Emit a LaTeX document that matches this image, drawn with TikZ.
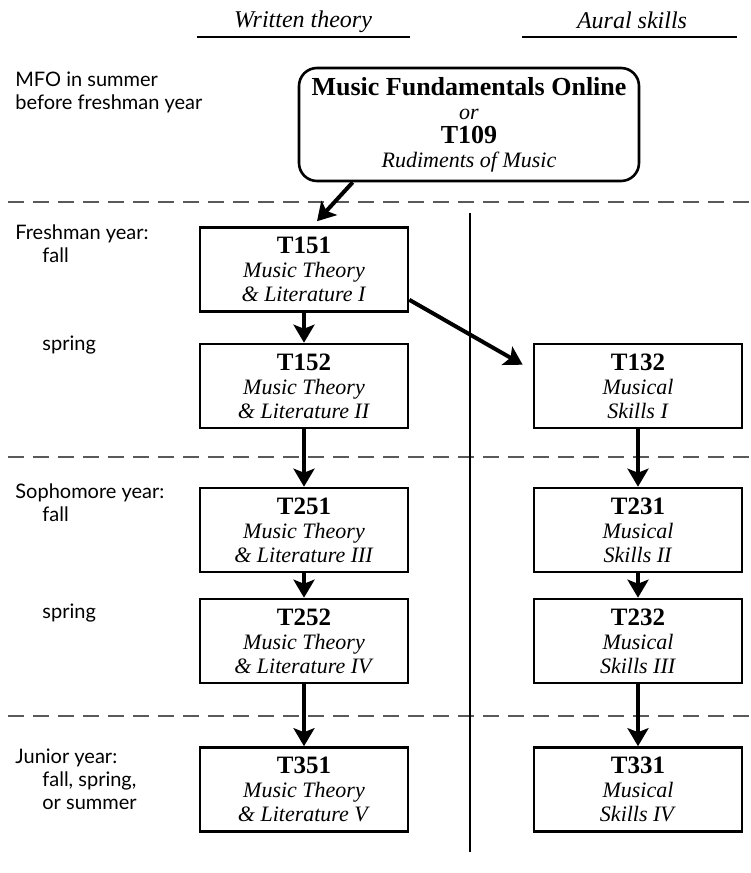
\documentclass[tikz,border=0pt]{standalone}
\usepackage{fontspec}
\setmainfont{Liberation Serif}
\newfontfamily\yearfont{Lato}
\usetikzlibrary{arrows.meta}

\newcommand{\crs}[3]{{\fontsize{12.5}{12}\selectfont\bfseries #1}\\\textit{#2}\\\textit{#3}}

\begin{document}
\begin{tikzpicture}[x=0.5pt,y=-0.5pt,>={Stealth[length=9pt,width=10.5pt,inset=2pt]}]
\tikzstyle{course}=[rectangle,draw,line width=1.3pt,minimum width=104pt,minimum height=42pt,inner sep=0pt,align=center,font=\fontsize{11}{12}\selectfont]
\tikzstyle{year}=[anchor=west,align=left,inner sep=0pt,font=\yearfont\fontsize{10}{11.5}\selectfont]
\tikzstyle{head}=[font=\fontsize{12}{14}\selectfont\itshape]
\tikzstyle{prereq}=[->,line width=2pt]
\tikzstyle{divider}=[dash pattern=on 8pt off 4.5pt,black!65,line width=0.8pt]
\useasboundingbox (0,0) rectangle (750,873);

% column heads
\node[head](wt) at (303,22) {Written theory};
\node[head](as) at (632,20) {Aural skills};
\draw[line width=1pt] (197,37) -- (410,37);
\draw[line width=1pt] (522,37) -- (737,37);

% years
\node[year](mfoyr) at (15,92) {MFO in summer\\before freshman year};
\node[year](fr) at (15,244) {Freshman year:\\\hspace*{13.5pt}fall};
\node[year](frsp) at (42,345) {spring};
\node[year](so) at (15,503) {Sophomore year:\\\hspace*{13.5pt}fall};
\node[year](sosp) at (42,613) {spring};
\node[year](jr) at (15,779) {Junior year:\\\hspace*{13.5pt}fall, spring,\\\hspace*{13.5pt}or summer};

\draw[divider] (8,202) -- (750,202);
\draw[divider] (8,457) -- (750,457);
\draw[divider] (8,716) -- (750,716);
\draw[line width=0.6pt] (470,213) -- (470,852);

\node[course,rounded corners=9pt,minimum width=170pt,minimum height=56.5pt](mfo) at (469,124.5)
  {{\fontsize{13}{12}\selectfont\bfseries Music Fundamentals Online}\\\textit{or}\\
   {\fontsize{13}{12}\selectfont\bfseries T109}\\\textit{Rudiments of Music}};
\node[course](t151) at (304,269.5) {\crs{T151}{Music Theory}{\& Literature I}};
\node[course](t152) at (304,386) {\crs{T152}{Music Theory}{\& Literature II}};
\node[course](t132) at (638,386) {\crs{T132}{Musical}{Skills I}};
\node[course](t251) at (304,530) {\crs{T251}{Music Theory}{\& Literature III}};
\node[course](t231) at (638,530) {\crs{T231}{Musical}{Skills II}};
\node[course](t252) at (304,641) {\crs{T252}{Music Theory}{\& Literature IV}};
\node[course](t232) at (638,641) {\crs{T232}{Musical}{Skills III}};
\node[course](t351) at (304,789.5) {\crs{T351}{Music Theory}{\& Literature V}};
\node[course](t331) at (638,789.5) {\crs{T331}{Musical}{Skills IV}};

\path ([xshift=27.5pt]mfo.south west) edge[prereq] ([xshift=6.5pt,yshift=2.5pt]t151.north)
      (t151) edge[prereq] (t152)
      ([yshift=6.5pt]t151.south east) edge[prereq] ([xshift=-5pt,yshift=-11pt]t132.north west)
      (t152) edge[prereq] (t251)
      (t132) edge[prereq] (t231)
      (t251) edge[prereq] (t252)
      (t231) edge[prereq] (t232)
      (t252) edge[prereq] (t351)
      (t232) edge[prereq] (t331);

\end{tikzpicture}
\end{document}
